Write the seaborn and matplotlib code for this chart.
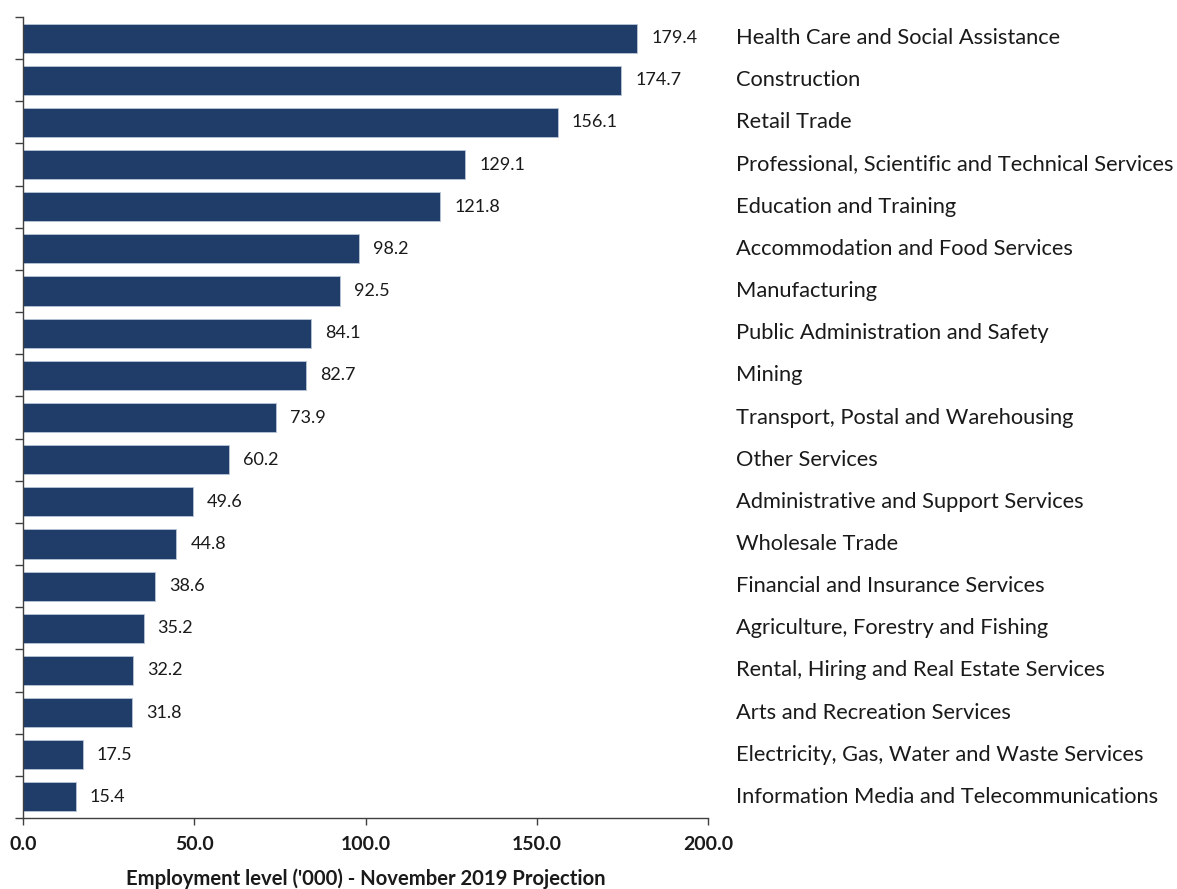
import matplotlib
matplotlib.use("Agg")
import matplotlib.pyplot as plt
import matplotlib.transforms as mtransforms
import seaborn as sns
import pandas as pd

categories = [
    "Health Care and Social Assistance",
    "Construction",
    "Retail Trade",
    "Professional, Scientific and Technical Services",
    "Education and Training",
    "Accommodation and Food Services",
    "Manufacturing",
    "Public Administration and Safety",
    "Mining",
    "Transport, Postal and Warehousing",
    "Other Services",
    "Administrative and Support Services",
    "Wholesale Trade",
    "Financial and Insurance Services",
    "Agriculture, Forestry and Fishing",
    "Rental, Hiring and Real Estate Services",
    "Arts and Recreation Services",
    "Electricity, Gas, Water and Waste Services",
    "Information Media and Telecommunications",
]
values = [179.4, 174.7, 156.1, 129.1, 121.8, 98.2, 92.5, 84.1, 82.7, 73.9,
          60.2, 49.6, 44.8, 38.6, 35.2, 32.2, 31.8, 17.5, 15.4]
x_ticks = [0, 50, 100, 150, 200]
x_tick_labels = ["0.0", "50.0", "100.0", "150.0", "200.0"]
x_label = "Employment level ('000) - November 2019 Projection"

sns.set_theme(style="white")
plt.rcParams["font.family"] = ["Lato", "DejaVu Sans"]

df = pd.DataFrame({"category": categories, "value": values})

W, H = 1177, 889
fig = plt.figure(figsize=(W / 100, H / 100), dpi=100)
ax = fig.add_axes([23 / W, 1 - 818 / H, (708 - 23) / W, (818 - 17) / H])

bar_color = "#1f3d68"
sns.barplot(data=df, y="category", x="value", orient="h", color=bar_color,
            saturation=1, width=0.69, edgecolor="#b8c4d6", linewidth=0.6, ax=ax)

n = len(categories)
ax.set_xlim(0, 200)
ax.set_ylim(n - 0.5, -0.5)

# value labels
for cont in ax.containers:
    ax.bar_label(cont, labels=[f"{v:.1f}" for v in values], padding=10,
                 fontsize=13, color="#1a1a1a")

# category labels on the right
trans = mtransforms.blended_transform_factory(ax.transAxes, ax.transData)
for i, c in enumerate(categories):
    ax.text((736 - 23) / (708 - 23), i, c, transform=trans, ha="left", va="center",
            fontsize=15.75, color="#1a1a1a")

# axes styling
for s in ["top", "right"]:
    ax.spines[s].set_visible(False)
for s in ["left", "bottom"]:
    ax.spines[s].set_color("#404040")
    ax.spines[s].set_linewidth(1.0)

ax.set_yticks([i - 0.5 for i in range(n + 1)])
ax.set_yticklabels([])
ax.tick_params(axis="y", direction="out", length=6, width=1, color="#404040", left=True)
ax.set_xticks(x_ticks)
ax.set_xticklabels(x_tick_labels, fontweight="bold", fontsize=14)
ax.tick_params(axis="x", direction="out", length=5, width=1, color="#404040",
               bottom=True, pad=8, labelcolor="#1a1a1a")
ax.set_ylabel("")
ax.set_xlabel(x_label, fontweight="bold", fontsize=14.6, labelpad=11, color="#1a1a1a")

fig.savefig("out.png", dpi=100)
